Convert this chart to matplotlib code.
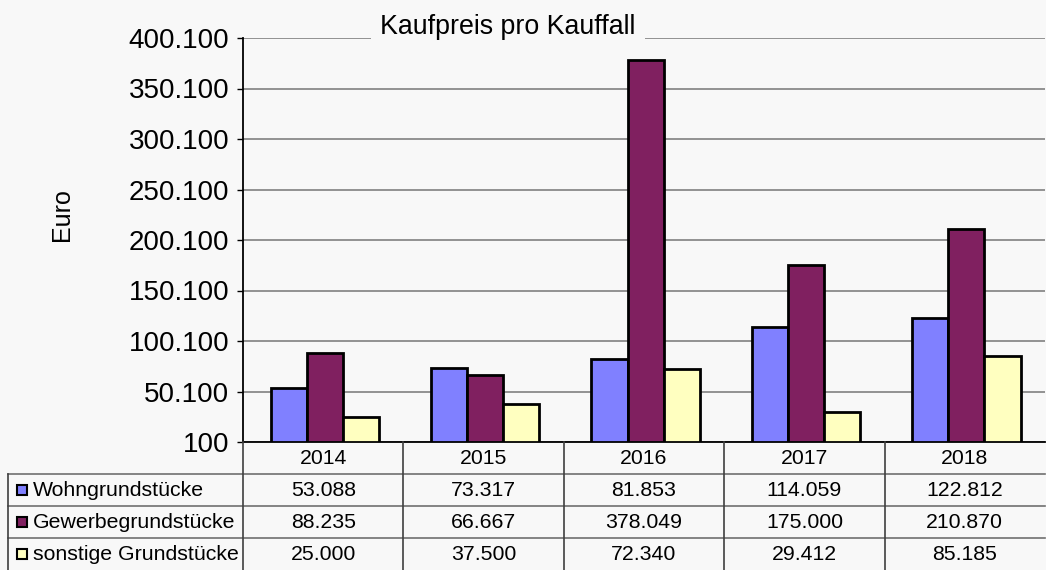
import matplotlib
matplotlib.use("Agg")
import matplotlib.pyplot as plt
from matplotlib.patches import Rectangle

plt.rcParams['font.family'] = ['Liberation Sans', 'DejaVu Sans']

years = ["2014", "2015", "2016", "2017", "2018"]
series_names = ["Wohngrundstücke", "Gewerbegrundstücke", "sonstige Grundstücke"]
wohn = [53088, 73317, 81853, 114059, 122812]
gewerbe = [88235, 66667, 378049, 175000, 210870]
sonstige = [25000, 37500, 72340, 29412, 85185]
colors = ["#8080FF", "#802060", "#FFFFC0"]
title = "Kaufpreis pro Kauffall"
ylabel = "Euro"
y_ticks = [100, 50100, 100100, 150100, 200100, 250100, 300100, 350100, 400100]

def de_fmt(v):
    return f"{v:,}".replace(",", ".")

bg = "#F8F8F8"
W, H = 1046, 570
fig = plt.figure(figsize=(W / 100, H / 100), dpi=100, facecolor=bg)

L, R, T, B = 243, 1045, 38, 442
ax = fig.add_axes([L / W, 1 - B / H, (R - L) / W, (B - T) / H], facecolor=bg)

series = [wohn, gewerbe, sonstige]
bw = 0.225
for k, vals in enumerate(series):
    xs = [i + (k - 1) * bw + 0.01 for i in range(len(years))]
    ax.bar(xs, [v - y_ticks[0] for v in vals], width=bw, bottom=y_ticks[0],
           color=colors[k], edgecolor="black", linewidth=2.0, zorder=3)

ax.set_xlim(-0.5, len(years) - 0.5)
ax.set_ylim(y_ticks[0], y_ticks[-1])
ax.set_yticks(y_ticks)
ax.set_yticklabels([de_fmt(v) for v in y_ticks], fontsize=20)
ax.tick_params(axis="y", length=4, width=1, color="black", pad=6)
ax.set_xticks([])
ax.grid(axis="y", color="#808080", linewidth=1.2, zorder=0)
for s in ["top", "right"]:
    ax.spines[s].set_visible(False)
ax.spines["left"].set_linewidth(1.3)
ax.spines["bottom"].set_linewidth(1.3)

fig.text(508 / W, 1 - 27 / H, title, fontsize=19.3, ha="center", va="center",
         bbox=dict(boxstyle="square,pad=0.35", fc=bg, ec="none"), zorder=10)
fig.text(62 / W, 1 - 215 / H, ylabel, fontsize=18, rotation=90,
         ha="center", va="center")

# table
TL = 8
colw = (R - L) / len(years)
tax = fig.add_axes([TL / W, 0, (R - TL) / W, (H - B) / H], facecolor="none")
x0 = -0.5 - (L - TL) / colw
tax.set_xlim(x0, len(years) - 0.5)
tax.set_ylim(4, 0)
tax.axis("off")
line_c = "#707070"
for r in [1, 2, 3]:
    tax.plot([x0, len(years) - 0.5], [r, r], color=line_c, lw=1.2, clip_on=False)
for i in range(len(years)):
    tax.plot([i - 0.5, i - 0.5], [0, 4], color="#404040", lw=1.2, clip_on=False)
tax.plot([x0, x0], [1, 4], color="#404040", lw=1.2, clip_on=False)
for i, yr in enumerate(years):
    tax.text(i, 0.5, yr, ha="center", va="center", fontsize=15.3)
for k, vals in enumerate(series):
    row = k + 1.5
    sq = (10 / colw)
    tax.add_patch(Rectangle((x0 + 9 / colw, row - 0.17), sq, 0.34,
                            facecolor=colors[k], edgecolor="black", lw=1.5,
                            clip_on=False))
    tax.text(x0 + 25 / colw, row, series_names[k], ha="left", va="center",
             fontsize=15.3)
    for i, v in enumerate(vals):
        tax.text(i, row, de_fmt(v), ha="center", va="center", fontsize=15.3)

fig.savefig("out.png", dpi=100, facecolor=bg)
